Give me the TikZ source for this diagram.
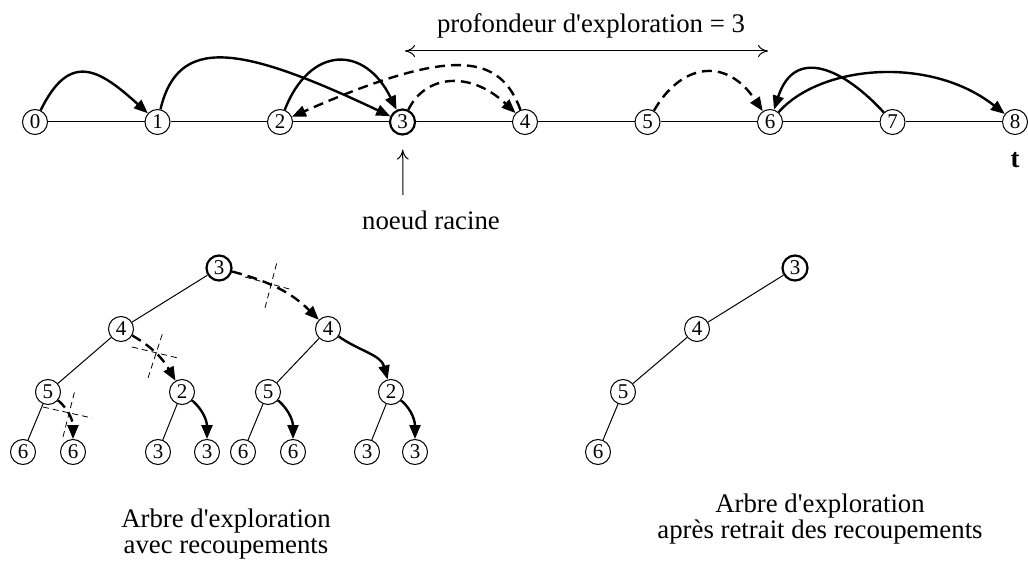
\documentclass[tikz,border=0pt]{standalone}
\usepackage{fontspec}
\setmainfont{Liberation Serif}
\usetikzlibrary{arrows.meta}

\begin{document}
\begin{tikzpicture}[x=0.5pt,y=0.5pt,
  state/.style={circle,draw,line width=0.5pt,minimum size=12.5pt,inner sep=0pt,font=\fontsize{10.5}{12}\selectfont},
  racine/.style={state,line width=1.1pt},
  saut/.style={line width=1.2pt,-{Triangle[length=7pt,width=5.5pt]}},
  coupe/.style={saut,dash pattern=on 5pt off 3pt},
  croix/.style={line width=0.4pt,dash pattern=on 3pt off 2pt},
  fleche/.style={line width=0.5pt},
  legende/.style={font=\fontsize{13.4}{16}\selectfont,anchor=base,inner sep=0pt}]
\useasboundingbox (0,0) rectangle (1028,-561);
%% axe du temps
\foreach \i in {0,1,2,4,5,6,7,8}
  \node[state] (n\i) at ({35+122.5*\i},-122) {\i};
\node[racine] (n3) at (402.5,-122) {3};
\foreach \i [count=\j from 1] in {0,...,7}
  \draw[fleche] (n\i) -- (n\j);
\node[legende,font=\fontsize{13.4}{16}\selectfont\bfseries] (t) at (1015,-168) {t};
%% sauts
\draw[saut] (n0) .. controls (70,-50) and (100,-70) .. (n1);
\draw[saut] (n1) .. controls (178,-35) and (240,-45) .. (n3);
\draw[saut] (n2) .. controls (310,-45) and (365,-45) .. (n3);
\draw[coupe] (n4) .. controls (500,-55) and (455,-45) .. (n2);
\draw[coupe] (n3) .. controls (425,-75) and (470,-70) .. (n4);
\draw[coupe] (n5) .. controls (680,-65) and (725,-55) .. (n6);
\draw[saut] (n7) .. controls (845,-70) and (795,-45) .. (n6);
\draw[saut] (n6) .. controls (820,-65) and (930,-55) .. (n8);
%% profondeur
\node[legende] (prof) at (591,-33) {profondeur d\textquotesingle exploration = 3};
\coordinate (pg) at (405,-51);
\coordinate (pd) at (768,-51);
\draw[fleche,{To[length=5pt,width=6pt]}-{To[length=5pt,width=6pt]}] (pg) -- (pd);
\node[legende] (nr) at (431,-230) {noeud racine};
\coordinate (rb) at (403,-195);
\draw[fleche,-{To[length=5pt,width=6pt]},shorten >=7pt] (rb) -- (n3);
%% arbre avec recoupements
\node[racine] (r) at (219,-268) {3};
\node[state] (a4) at (121,-329) {4};
\node[state] (b4) at (328,-329) {4};
\node[state] (a5) at (48,-392) {5};
\node[state] (a2) at (182,-392) {2};
\node[state] (b5) at (268,-392) {5};
\node[state] (b2) at (391,-392) {2};
\node[state] (a56) at (23,-452) {6};
\node[state] (a66) at (73,-452) {6};
\node[state] (a23) at (158,-452) {3};
\node[state] (a33) at (207,-452) {3};
\node[state] (b56) at (243,-452) {6};
\node[state] (b66) at (293,-452) {6};
\node[state] (b23) at (367,-452) {3};
\node[state] (b33) at (415,-452) {3};
\draw[fleche] (r) -- (a4) -- (a5) -- (a56);
\draw[fleche] (a2) -- (a23);
\draw[fleche] (b4) -- (b5) -- (b56);
\draw[fleche] (b2) -- (b23);
\draw[coupe] (r) to[out=-15,in=135] (b4);
\draw[coupe] (a4) to[out=-30,in=120] (a2);
\draw[coupe] (a5) to[out=-40,in=90] (a66);
\draw[saut] (b4) to[out=-35,in=105] (b2);
\draw[saut] (a2) to[out=-40,in=90] (a33);
\draw[saut] (b5) to[out=-40,in=90] (b66);
\draw[saut] (b2) to[out=-40,in=90] (b33);
\draw[croix] (265,-308) -- (277,-262) (245,-277) -- (293,-290);
\draw[croix] (148,-378) -- (163,-332) (132,-347) -- (178,-358);
\draw[croix] (63,-437) -- (75,-390) (43,-407) -- (92,-418);
\node[legende] (capa1) at (226,-527) {Arbre d\textquotesingle exploration};
\node[legende] (capa2) at (226,-553) {avec recoupements};
%% arbre sans recoupements
\node[racine] (c3) at (795,-268) {3};
\node[state] (c4) at (697,-329) {4};
\node[state] (c5) at (623,-392) {5};
\node[state] (c6) at (598,-452) {6};
\draw[fleche] (c3) -- (c4) -- (c5) -- (c6);
\node[legende] (capb1) at (820,-512) {Arbre d\textquotesingle exploration};
\node[legende] (capb2) at (820,-538) {après retrait des recoupements};
\end{tikzpicture}
\end{document}
